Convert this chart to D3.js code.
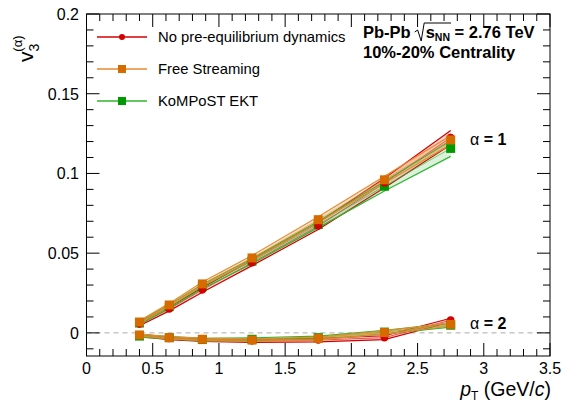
<!DOCTYPE html>
<html>
<head>
<meta charset="utf-8">
<script src="https://cdn.jsdelivr.net/npm/d3@7"></script>
<style>
  body { margin: 0; background: #fff; }
  svg { font-family: "Liberation Sans", Arial, sans-serif; }
</style>
</head>
<body>
<div id="chart"></div>
<script>
// pT bin centres
const ptValues = [0.4, 0.625, 0.875, 1.25, 1.75, 2.25, 2.75];

// alpha = 1 : centre values and half-widths of the bands
const noPreA1 = [0.0055, 0.015, 0.027, 0.044, 0.067, 0.094, 0.1225];
const noPreA1Err = [0.0010, 0.0012, 0.0015, 0.0018, 0.0022, 0.0030, 0.0045];
const freeA1 = [0.0068, 0.0175, 0.0307, 0.047, 0.071, 0.096, 0.121];
const freeA1Err = [0.0008, 0.0010, 0.0012, 0.0015, 0.0018, 0.0022, 0.0028];
const kompA1 = [0.0062, 0.0165, 0.029, 0.045, 0.068, 0.092, 0.1157];
const kompA1Err = [0.0009, 0.0011, 0.0013, 0.0016, 0.0020, 0.0030, 0.0050];

// alpha = 2
const noPreA2 = [-0.0015, -0.0035, -0.0045, -0.005, -0.0045, -0.003, 0.008];
const noPreA2Err = [0.0008, 0.0008, 0.0009, 0.0010, 0.0011, 0.0012, 0.0012];
const freeA2 = [-0.0013, -0.003, -0.004, -0.0045, -0.0035, 0.0002, 0.0053];
const freeA2Err = [0.0006, 0.0007, 0.0007, 0.0008, 0.0009, 0.0010, 0.0010];
const kompA2 = [-0.002, -0.003, -0.0042, -0.004, -0.003, 0.0005, 0.0048];
const kompA2Err = [0.0007, 0.0007, 0.0008, 0.0009, 0.0010, 0.0011, 0.0012];

const xTicks = [0, 0.5, 1, 1.5, 2, 2.5, 3, 3.5];
const yTicks = [0, 0.05, 0.1, 0.15, 0.2];

const legendLabels = ["No pre-equilibrium dynamics", "Free Streaming", "KoMPoST EKT"];

const width = 565, height = 404;

const svg = d3.select("#chart").append("svg")
    .attr("width", width)
    .attr("height", height);

const x = d3.scaleLinear().domain([0, 3.5]).range([86.5, 550]);
const y = d3.scaleLinear().domain([-0.0145, 0.2]).range([356, 14]);

const series = [
  {name: legendLabels[0], line: "#d40000", fill: "rgba(230,60,40,0.22)", marker: "#d40000", shape: "circle",
   a1: noPreA1, a1e: noPreA1Err, a2: noPreA2, a2e: noPreA2Err},
  {name: legendLabels[1], line: "#e88a2e", fill: "rgba(225,130,40,0.22)", marker: "#d66b00", shape: "square",
   a1: freeA1, a1e: freeA1Err, a2: freeA2, a2e: freeA2Err},
  {name: legendLabels[2], line: "#2fb52f", fill: "rgba(60,180,60,0.18)", marker: "#009a00", shape: "square",
   a1: kompA1, a1e: kompA1Err, a2: kompA2, a2e: kompA2Err}
];

const x0 = x.range()[0], x1 = x.range()[1], yb = y.range()[0], yt = y.range()[1];

// zero line
svg.append("line")
    .attr("x1", x0).attr("x2", x1)
    .attr("y1", y(0)).attr("y2", y(0))
    .attr("stroke", "#aaa").attr("stroke-dasharray", "5,4").attr("stroke-width", 1);

// bands
const area = d3.area().x(d => x(d.x)).y0(d => y(d.lo)).y1(d => y(d.hi));
const line = d3.line().x(d => x(d[0])).y(d => y(d[1]));

const drawOrder = [0, 2, 1];
["a1", "a2"].forEach(key => {
  drawOrder.forEach(i => {
    const s = series[i];
    const vals = s[key], errs = s[key + "e"];
    const pts = ptValues.map((p, j) => ({x: p, lo: vals[j] - errs[j], hi: vals[j] + errs[j]}));
    svg.append("path").datum(pts)
        .attr("d", area)
        .attr("fill", s.fill)
        .attr("stroke", "none");
    svg.append("path").datum(pts.map(d => [d.x, d.hi]))
        .attr("d", line).attr("fill", "none").attr("stroke", s.line).attr("stroke-width", 1.2);
    svg.append("path").datum(pts.map(d => [d.x, d.lo]))
        .attr("d", line).attr("fill", "none").attr("stroke", s.line).attr("stroke-width", 1.2);
    svg.append("path").datum(ptValues.map((p, j) => [p, vals[j]]))
        .attr("d", line).attr("fill", "none").attr("stroke", s.line).attr("stroke-width", 1).attr("opacity", 0.6);
  });
});

// markers
function marker(g, s, cx, cy) {
  if (s.shape === "circle") {
    g.append("circle").attr("cx", cx).attr("cy", cy).attr("r", 3.8).attr("fill", s.marker);
  } else {
    g.append("rect").attr("x", cx - 4.5).attr("y", cy - 4.5).attr("width", 9).attr("height", 9).attr("fill", s.marker);
  }
}
const markerOrder = [2, 0, 1];
["a1", "a2"].forEach(key => {
  markerOrder.forEach(i => {
    const s = series[i];
    ptValues.forEach((p, j) => marker(svg, s, x(p), y(s[key][j])));
  });
});

// frame
svg.append("rect")
    .attr("x", x0).attr("y", yt).attr("width", x1 - x0).attr("height", yb - yt)
    .attr("fill", "none").attr("stroke", "#000").attr("stroke-width", 1);

// ticks (ROOT style, inward, mirrored)
const tk = svg.append("g").attr("stroke", "#000").attr("stroke-width", 1);
d3.range(0, 3.5001, 0.1).forEach(v => {
  const major = Math.abs(v * 2 - Math.round(v * 2)) < 1e-6;
  const len = major ? 13 : 7;
  tk.append("line").attr("x1", x(v)).attr("x2", x(v)).attr("y1", yb).attr("y2", yb - len);
  tk.append("line").attr("x1", x(v)).attr("x2", x(v)).attr("y1", yt).attr("y2", yt + len);
});
d3.range(-0.01, 0.2001, 0.01).forEach(v => {
  const major = Math.abs(v * 20 - Math.round(v * 20)) < 1e-6;
  const len = major ? 13 : 7;
  tk.append("line").attr("x1", x0).attr("x2", x0 + len).attr("y1", y(v)).attr("y2", y(v));
  tk.append("line").attr("x1", x1).attr("x2", x1 - len).attr("y1", y(v)).attr("y2", y(v));
});

// tick labels
svg.append("g").selectAll("text").data(xTicks).join("text")
    .attr("x", d => x(d)).attr("y", 374)
    .attr("text-anchor", "middle").attr("font-size", 16).attr("fill", "#000")
    .text(d => d);
svg.append("g").selectAll("text").data(yTicks).join("text")
    .attr("x", 79).attr("y", d => y(d) + 6)
    .attr("text-anchor", "end").attr("font-size", 16).attr("fill", "#000")
    .text(d => d);

// axis titles
const xt = svg.append("text").attr("x", 551).attr("y", 396)
    .attr("text-anchor", "end").attr("font-size", 19.5).attr("fill", "#000");
xt.append("tspan").attr("font-style", "italic").text("p");
xt.append("tspan").attr("font-size", 12).attr("dy", 4).text("T");
xt.append("tspan").attr("dy", -4).text(" (GeV/");
xt.append("tspan").attr("font-style", "italic").text("c");
xt.append("tspan").text(")");

const ytl = svg.append("text")
    .attr("transform", "translate(33,62) rotate(-90)")
    .attr("font-size", 21).attr("fill", "#000");
ytl.append("tspan").text("v");
ytl.append("tspan").attr("font-size", 14).attr("dy", 6).text("3");
ytl.append("tspan").attr("font-size", 13).attr("dx", -8).attr("dy", -17).text("(α)");

// legend
const lg = svg.append("g");
series.forEach((s, i) => {
  const ly = 37 + i * 32;
  lg.append("line").attr("x1", 97).attr("x2", 147).attr("y1", ly).attr("y2", ly)
      .attr("stroke", s.line).attr("stroke-width", 1.5);
  if (s.shape === "circle") {
    lg.append("circle").attr("cx", 122).attr("cy", ly).attr("r", 3).attr("fill", s.marker);
  } else {
    lg.append("rect").attr("x", 118).attr("y", ly - 4).attr("width", 8).attr("height", 8).attr("fill", s.marker);
  }
  lg.append("text").attr("x", 158).attr("y", ly + 5)
      .attr("font-size", 14.8).attr("fill", "#000").text(s.name);
});

// system label with a drawn square root
const fs = 16.5;
const t1 = svg.append("text").attr("x", 363).attr("y", 38)
    .attr("font-size", fs).attr("font-weight", "bold").attr("fill", "#000").text("Pb-Pb");
const rootX = 363 + t1.node().getComputedTextLength() + 7;
const sx = rootX + 8;
const t2 = svg.append("text").attr("x", sx).attr("y", 38)
    .attr("font-size", fs).attr("font-weight", "bold").attr("fill", "#000");
t2.append("tspan").text("s");
t2.append("tspan").attr("font-size", 10.5).attr("dy", 3).text("NN");
const sEnd = sx + t2.node().getComputedTextLength();
t2.append("tspan").attr("dy", -3).text(" = 2.76 TeV");
svg.append("path")
    .attr("d", `M${rootX - 3},32 L${rootX},30 L${rootX + 3.5},41 L${rootX + 6.5},23 L${sEnd + 1},23`)
    .attr("fill", "none").attr("stroke", "#000").attr("stroke-width", 1);
svg.append("text").attr("x", 363).attr("y", 58)
    .attr("font-size", fs).attr("font-weight", "bold").attr("fill", "#000")
    .text("10%-20% Centrality");

// alpha labels
function alphaLabel(val, yy) {
  const t = svg.append("text").attr("x", 470).attr("y", yy).attr("font-size", 16).attr("fill", "#000");
  t.append("tspan").text("α");
  t.append("tspan").attr("font-weight", "bold").text(" = " + val);
}
alphaLabel(1, 145);
alphaLabel(2, 329);
</script>
</body>
</html>
